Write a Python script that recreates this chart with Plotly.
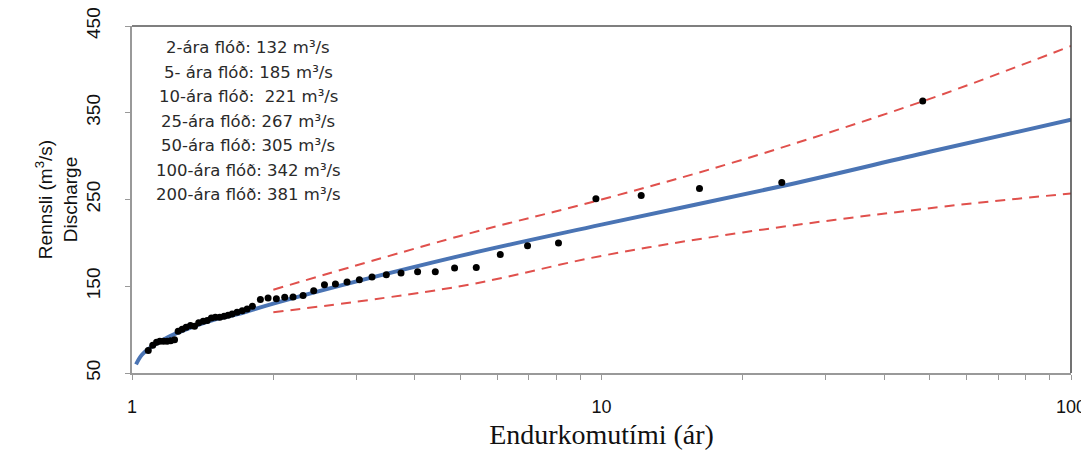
import plotly.graph_objects as go

# Observed floods: return period (years) and discharge (m3/s)
obs_T = [1.083, 1.107, 1.128, 1.146, 1.167, 1.188, 1.209, 1.232, 1.254, 1.279,
         1.304, 1.332, 1.359, 1.387, 1.418, 1.446, 1.476, 1.505, 1.538, 1.571,
         1.602, 1.634, 1.674, 1.717, 1.759, 1.805, 1.877, 1.949, 2.03, 2.115,
         2.203, 2.314, 2.438, 2.57, 2.712, 2.871, 3.05, 3.245, 3.481, 3.741,
         4.058, 4.426, 4.865, 5.411, 6.087, 6.958, 8.098, 9.73, 12.15, 16.17,
         24.21, 48.33]
obs_Q = [75.9, 82.0, 85.4, 86.6, 86.6, 86.6, 87.1, 88.2, 98.1, 100.4,
         102.7, 104.7, 103.9, 107.8, 109.6, 110.4, 113.5, 114.2, 114.2, 115.4,
         116.5, 118.1, 120.0, 121.9, 123.9, 126.9, 134.6, 136.5, 135.7, 137.2,
         137.7, 139.2, 144.9, 151.8, 152.6, 155.0, 157.6, 160.7, 163.3, 165.3,
         166.8, 166.8, 171.1, 171.7, 186.7, 196.7, 199.8, 250.8, 254.6, 262.7,
         269.6, 363.6]

# Fitted frequency curve
fit_T = [1.02, 1.05, 1.1, 1.2, 1.3, 1.5, 1.7, 2, 5, 10, 25, 50, 100]
fit_Q = [60, 71, 80, 92, 100, 111.5, 118.5, 130, 185, 221, 267, 305, 342]

# Confidence limits
ci_T = [2, 5, 10, 20, 50, 100]
ci_upper = [146, 208, 250, 296, 366, 427]
ci_lower = [120, 150, 185, 212, 240, 257]

# Text block
flood_labels = ["2-ára flóð: 132 m³/s", "5- ára flóð: 185 m³/s",
                "10-ára flóð:\u00a0 221 m³/s", "25-ára flóð: 267 m³/s",
                "50-ára flóð: 305 m³/s", "100-ára flóð: 342 m³/s",
                "200-ára flóð: 381 m³/s"]

x_tickvals = [1, 2, 3, 4, 5, 6, 7, 8, 9, 10, 20, 30, 40, 50, 60, 70, 80, 90, 100]
x_ticktext = ["1", "", "", "", "", "", "", "", "", "10",
              "", "", "", "", "", "", "", "", "100"]
y_tickvals = [50, 150, 250, 350, 450]

fig = go.Figure()
fig.add_trace(go.Scatter(x=ci_T, y=ci_upper, mode="lines",
                         line=dict(color="#e0504c", width=2, dash="10px,7px"),
                         line_shape="spline", showlegend=False))
fig.add_trace(go.Scatter(x=ci_T, y=ci_lower, mode="lines",
                         line=dict(color="#e0504c", width=2, dash="10px,7px"),
                         line_shape="spline", showlegend=False))
fig.add_trace(go.Scatter(x=fit_T, y=fit_Q, mode="lines",
                         line=dict(color="#4a74b4", width=4),
                         line_shape="spline", showlegend=False))
fig.add_trace(go.Scatter(x=obs_T, y=obs_Q, mode="markers",
                         marker=dict(color="black", size=7),
                         showlegend=False))

# page body has an 8px margin; figure sized to fit the visible window
OFF = 8
W, H = 1089 - OFF, 455 - OFF
L, R, T, B = 131.5 - OFF, 1071.0 - OFF, 26.0 - OFF, 373.5 - OFF
pw, ph = R - L, B - T
line_px = [48, 73, 97, 122, 146, 171, 195]
for txt, py in zip(flood_labels, line_px):
    fig.add_annotation(x=(248 - OFF - L) / pw, y=(B - (py - OFF)) / ph,
                       xref="paper", yref="paper",
                       text=txt, showarrow=False, xanchor="center", yanchor="middle",
                       font=dict(family="DejaVu Sans", size=16.5, color="#2a2a2a"))

# top and right frame
fig.add_shape(type="line", xref="paper", yref="paper", x0=0, x1=1, y0=1, y1=1,
              line=dict(color="#555555", width=1.5))
fig.add_shape(type="line", xref="paper", yref="paper", x0=1, x1=1, y0=0, y1=1,
              line=dict(color="#444444", width=1.5))

fig.update_layout(
    width=W, height=H,
    margin=dict(l=L, r=W - R, t=T, b=H - B),
    paper_bgcolor="white", plot_bgcolor="white",
    xaxis=dict(type="log", range=[0, 2], tickvals=x_tickvals, ticktext=x_ticktext,
               ticks="outside", ticklen=5, tickcolor="#999999", automargin=False,
               showline=True, linecolor="#999999", linewidth=1.5,
               showgrid=False, zeroline=False, ticklabelstandoff=12,
               ticklabeloverflow="allow",
               tickfont=dict(family="Liberation Sans", size=18, color="#111111"),
               title=dict(text="Endurkomutími (ár)", standoff=8,
                          font=dict(family="Liberation Serif", size=28, color="#111111"))),
    yaxis=dict(range=[50, 450], tickvals=y_tickvals, ticks="outside", ticklen=5,
               tickcolor="#999999", showline=True, linecolor="#999999", linewidth=1.5,
               showgrid=False, zeroline=False, tickangle=-90, ticklabelstandoff=18,
               automargin=False, ticklabeloverflow="allow",
               tickfont=dict(family="Liberation Sans", size=19, color="#111111"),
               title=dict(text="Rennsli (m<sup>3</sup>/s)<br>Discharge", standoff=0,
                          font=dict(family="Liberation Sans", size=19, color="#111111"))),
)

fig.write_html("out.html")
